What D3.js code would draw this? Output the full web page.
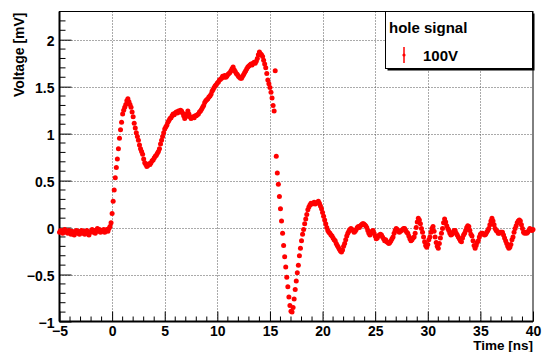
<!DOCTYPE html>
<html>
<head>
<meta charset="utf-8">
<script src="https://cdn.jsdelivr.net/npm/d3@7"></script>
<style>
  html, body { margin: 0; padding: 0; background: #fff; }
  svg { display: block; font-family: "Liberation Sans", Arial, Helvetica, sans-serif; font-weight: bold; }
</style>
</head>
<body>
<svg id="chart" width="545" height="352"></svg>
<script>
// Sampled waveform: one reading every 0.1 ns starting at -5 ns
const timeStart = -5;
const timeStep = 0.1;
const voltage = [
  -0.05,-0.03,-0.04,-0.06,-0.03,-0.02,-0.05,-0.04,-0.06,-0.03,
  -0.05,-0.07,-0.04,-0.06,-0.08,-0.05,-0.03,-0.06,-0.04,-0.07,
  -0.05,-0.03,-0.06,-0.04,-0.07,-0.05,-0.03,-0.06,-0.08,-0.05,
  -0.04,-0.02,-0.05,-0.03,-0.06,-0.03,-0.01,-0.04,-0.02,-0.05,
  -0.03,-0.04,-0.02,-0.05,-0.03,-0.02,-0.04,-0.01,0.01,0.05,
  0.15,0.28,0.40,0.53,0.64,0.73,0.84,0.95,1.04,1.12,
  1.21,1.25,1.28,1.31,1.35,1.37,1.34,1.31,1.28,1.23,
  1.18,1.11,1.06,1.01,0.97,0.93,0.88,0.84,0.81,0.78,
  0.73,0.69,0.67,0.65,0.66,0.68,0.67,0.69,0.71,0.72,
  0.74,0.76,0.77,0.79,0.81,0.84,0.89,0.93,0.97,1.01,
  1.05,1.07,1.09,1.12,1.14,1.16,1.17,1.19,1.21,1.20,
  1.22,1.23,1.22,1.24,1.23,1.25,1.24,1.22,1.19,1.16,
  1.18,1.21,1.24,1.21,1.18,1.16,1.17,1.18,1.17,1.19,
  1.19,1.20,1.21,1.23,1.24,1.26,1.28,1.30,1.33,1.35,
  1.36,1.37,1.39,1.40,1.42,1.45,1.47,1.49,1.51,1.52,
  1.54,1.55,1.57,1.58,1.59,1.61,1.60,1.62,1.60,1.61,
  1.63,1.64,1.65,1.67,1.69,1.71,1.68,1.66,1.64,1.63,
  1.61,1.60,1.59,1.59,1.61,1.63,1.65,1.67,1.69,1.71,
  1.72,1.73,1.74,1.73,1.75,1.76,1.75,1.77,1.80,1.84,
  1.87,1.85,1.84,1.82,1.78,1.74,1.70,1.64,1.57,1.53,
  1.49,1.44,1.38,1.30,1.24,1.67,0.76,0.58,0.46,0.33,
  0.20,0.07,-0.06,-0.19,-0.31,-0.42,-0.53,-0.63,-0.74,-0.83,
  -0.89,-0.90,-0.85,-0.76,-0.66,-0.57,-0.48,-0.40,-0.30,-0.22,
  -0.14,-0.07,-0.02,0.04,0.09,0.14,0.19,0.22,0.24,0.26,
  0.25,0.26,0.27,0.25,0.26,0.27,0.28,0.26,0.23,0.20,
  0.16,0.12,0.08,0.04,0.00,-0.03,-0.05,-0.06,-0.08,-0.09,
  -0.11,-0.13,-0.14,-0.17,-0.19,-0.21,-0.23,-0.25,-0.26,-0.24,
  -0.20,-0.17,-0.13,-0.09,-0.06,-0.04,-0.02,-0.01,-0.02,-0.03,
  -0.05,-0.04,-0.02,0.00,0.01,0.00,0.02,0.03,0.04,0.04,
  0.03,0.02,0.00,-0.03,-0.06,-0.08,-0.06,-0.04,-0.03,-0.06,
  -0.09,-0.12,-0.11,-0.09,-0.08,-0.07,-0.08,-0.10,-0.12,-0.14,
  -0.13,-0.15,-0.16,-0.17,-0.16,-0.14,-0.12,-0.10,-0.06,-0.03,
  -0.01,-0.02,-0.04,-0.05,-0.04,-0.03,-0.02,-0.01,-0.01,-0.03,
  -0.05,-0.06,-0.09,-0.12,-0.14,-0.13,-0.11,-0.10,-0.06,0.00,
  0.06,0.10,0.08,0.04,-0.01,-0.05,-0.10,-0.15,-0.19,-0.21,
  -0.18,-0.13,-0.10,-0.05,-0.01,0.01,-0.04,-0.10,-0.16,-0.20,
  -0.22,-0.17,-0.11,-0.06,-0.01,0.05,0.09,0.06,0.02,-0.01,
  -0.03,-0.06,-0.08,-0.07,-0.05,-0.03,-0.03,-0.06,-0.08,-0.10,
  -0.12,-0.14,-0.15,-0.11,-0.08,-0.06,-0.03,0.00,0.02,0.01,
  -0.03,-0.07,-0.09,-0.14,-0.19,-0.22,-0.19,-0.16,-0.14,-0.10,
  -0.07,-0.06,-0.06,-0.07,-0.08,-0.07,-0.05,-0.03,-0.01,0.03,
  0.07,0.10,0.07,0.03,-0.01,-0.03,-0.04,-0.06,-0.06,-0.05,
  -0.05,-0.05,-0.08,-0.11,-0.14,-0.17,-0.20,-0.22,-0.21,-0.18,
  -0.13,-0.10,-0.05,-0.01,0.02,0.05,0.07,0.08,0.07,0.03,
  -0.01,-0.05,-0.06,-0.05,-0.06,-0.05,-0.03,-0.01,-0.02,-0.03,
  -0.02
];

const xDomain = [-5, 40];
const yDomain = [-1, 2.3];
const xMajorTicks = [-5, 0, 5, 10, 15, 20, 25, 30, 35, 40];
const yMajorTicks = [-1, -0.5, 0, 0.5, 1, 1.5, 2];
const xTitle = "Time [ns]";
const yTitle = "Voltage [mV]";
const legendHeader = "hole signal";
const seriesName = "100V";

const points = voltage.map((v, i) => ({ t: +(timeStart + i * timeStep).toFixed(2), v }));

const svg = d3.select("#chart");
const frame = { left: 59.5, right: 533, top: 11.5, bottom: 321.5 };

const x = d3.scaleLinear().domain(xDomain).range([frame.left, frame.right]);
const y = d3.scaleLinear().domain(yDomain).range([frame.bottom, frame.top]);

// dotted grid at the major ticks
const gridColor = "#555";
svg.append("g").selectAll("line")
  .data(xMajorTicks.filter(d => d > xDomain[0] && d < xDomain[1]))
  .join("line")
  .attr("x1", d => Math.round(x(d)) + 0.5).attr("x2", d => Math.round(x(d)) + 0.5)
  .attr("y1", frame.top).attr("y2", frame.bottom)
  .attr("stroke", gridColor).attr("stroke-width", 1).attr("stroke-dasharray", "1,2");
svg.append("g").selectAll("line")
  .data(yMajorTicks.filter(d => d > yDomain[0] && d < yDomain[1]))
  .join("line")
  .attr("y1", d => Math.round(y(d)) + 0.5).attr("y2", d => Math.round(y(d)) + 0.5)
  .attr("x1", frame.left).attr("x2", frame.right)
  .attr("stroke", gridColor).attr("stroke-width", 1).attr("stroke-dasharray", "1,2");

// frame
svg.append("rect")
  .attr("x", frame.left).attr("y", frame.top)
  .attr("width", frame.right - frame.left).attr("height", frame.bottom - frame.top)
  .attr("fill", "none").attr("stroke", "#000").attr("stroke-width", 1);

// bottom axis: ticks drawn inward, labels below
const xAxis = d3.axisBottom(x).tickValues(xMajorTicks).tickSize(-10).tickPadding(5);
const gx = svg.append("g").attr("transform", `translate(0,${frame.bottom})`).call(xAxis);
gx.select(".domain").attr("stroke-width", 2).attr("d", `M${frame.left},0H${frame.right}`);
gx.selectAll(".tick line").attr("stroke-width", 1);
gx.selectAll(".tick text").attr("font-size", 14).attr("font-weight", "bold")
  .attr("font-family", "Liberation Sans, Arial, sans-serif").attr("fill", "#000").attr("dy", "0.7em");
const xMinor = d3.range(xDomain[0], xDomain[1] + 0.001, 1).filter(d => !xMajorTicks.includes(d));
gx.append("g").selectAll("line").data(xMinor).join("line")
  .attr("x1", d => x(d)).attr("x2", d => x(d)).attr("y1", 0).attr("y2", -5)
  .attr("stroke", "#000").attr("stroke-width", 1);

// left axis
const yAxis = d3.axisLeft(y).tickValues(yMajorTicks).tickSize(-12).tickPadding(5)
  .tickFormat(d => d3.format("")(d));
const gy = svg.append("g").attr("transform", `translate(${frame.left},0)`).call(yAxis);
gy.select(".domain").attr("stroke-width", 2).attr("d", `M0,${frame.top}V${frame.bottom}`);
gy.selectAll(".tick text").attr("font-size", 14).attr("font-weight", "bold")
  .attr("font-family", "Liberation Sans, Arial, sans-serif").attr("fill", "#000").attr("dy", "0.4em");
const yMinor = d3.range(-10, 24).map(k => k / 10).filter(d => !yMajorTicks.some(m => Math.abs(m - d) < 1e-9));
gy.append("g").selectAll("line").data(yMinor).join("line")
  .attr("y1", d => y(d)).attr("y2", d => y(d)).attr("x1", 0).attr("x2", 6)
  .attr("stroke", "#000").attr("stroke-width", 1);

// axis titles
svg.append("text").attr("x", frame.right).attr("y", 350).attr("text-anchor", "end")
  .attr("font-size", 13.5).text(xTitle);
svg.append("text").attr("transform", `translate(24,${frame.top + 1}) rotate(-90)`)
  .attr("text-anchor", "end").attr("font-size", 14).text(yTitle);

// data points
svg.append("g").attr("fill", "#ff0000")
  .selectAll("circle").data(points).join("circle")
  .attr("cx", d => x(d.t)).attr("cy", d => y(d.v)).attr("r", 2.5);

// legend box with shadow
const lg = svg.append("g");
lg.append("rect").attr("x", 387.5).attr("y", 13.5).attr("width", 147).attr("height", 57).attr("fill", "#000");
lg.append("rect").attr("x", 385.5).attr("y", 11.5).attr("width", 147).attr("height", 57)
  .attr("fill", "#fff").attr("stroke", "#000").attr("stroke-width", 1);
lg.append("text").attr("x", 389).attr("y", 33).attr("font-size", 15).text(legendHeader);
lg.append("line").attr("x1", 404).attr("x2", 404).attr("y1", 47).attr("y2", 63)
  .attr("stroke", "#ff0000").attr("stroke-width", 1.5);
lg.append("circle").attr("cx", 404).attr("cy", 55).attr("r", 1.6).attr("fill", "#ff0000");
lg.append("text").attr("x", 423).attr("y", 61).attr("font-size", 15).text(seriesName);
</script>
</body>
</html>
